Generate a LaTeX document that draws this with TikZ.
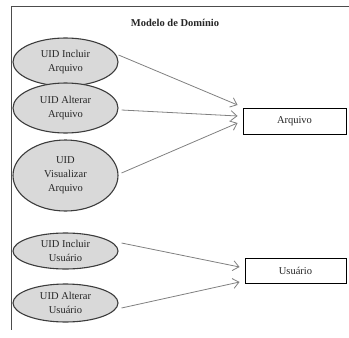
\documentclass[tikz,border=0pt]{standalone}
\usepackage{fontspec}
\setmainfont{Liberation Serif}
\usetikzlibrary{shapes.geometric,arrows.meta}
\definecolor{usefill}{HTML}{D9D9D9}
\definecolor{useline}{HTML}{3C3C3C}
\definecolor{linkgray}{HTML}{808080}
\definecolor{txt}{HTML}{262626}
\tikzset{
  usecase/.style={ellipse, draw=useline, fill=usefill, line width=1.1pt,
    inner sep=0pt, minimum width=105pt, align=center, text=txt,
    font=\fontsize{10.5}{14}\selectfont},
  entity/.style={rectangle, draw=black, fill=white, line width=0.9pt,
    inner sep=0pt, text=txt, font=\fontsize{10.5}{13}\selectfont},
  link/.style={draw=linkgray, line width=0.8pt,
    -{Straight Barb[length=6pt,width=10pt,line width=0.8pt]}},
  frameline/.style={draw=black!70, line width=1pt}
}
\begin{document}
\begin{tikzpicture}[x=1pt,y=-1pt]
\useasboundingbox (0,0) rectangle (349,338);
% outer frame (top and left edges)
\draw[frameline] (349,6) -- (11,6) -- (11,330);
% title
\node[font=\fontsize{10.5}{13}\selectfont\bfseries, text=txt] (title) at (175,23) {Modelo de Domínio};
% use cases
\node[usecase, minimum height=48pt] (e1) at (65.5,62) {UID Incluir\\Arquivo};
\node[usecase, minimum height=50pt] (e2) at (65.5,108) {UID Alterar\\Arquivo};
\node[usecase, minimum height=71pt] (e3) at (65.5,175.5) {UID\\Visualizar\\Arquivo};
\node[usecase, minimum height=36pt] (e4) at (65.5,251) {UID Incluir\\Usuário};
\node[usecase, minimum height=38pt] (e5) at (65.5,303) {UID Alterar\\Usuário};
% domain classes
\node[entity, minimum width=103pt, minimum height=26pt] (arq) at (294.5,121) {Arquivo};
\node[entity, minimum width=101pt, minimum height=25pt] (usr) at (295.5,270.5) {Usuário};
% dependencies
\draw[link] ([yshift=7pt]e1.east) -- ([xshift=-5pt,yshift=16pt]arq.west);
\draw[link] ([xshift=3pt,yshift=-2pt]e2.east) -- ([xshift=-5pt,yshift=5pt]arq.west);
\draw[link] ([xshift=3pt,yshift=2.5pt]e3.east) -- ([xshift=-5pt,yshift=-2pt]arq.west);
\draw[link] ([xshift=3pt,yshift=8pt]e4.east) -- ([xshift=-5pt,yshift=3.5pt]usr.west);
\draw[link] ([xshift=3pt,yshift=-5pt]e5.east) -- ([xshift=-5pt,yshift=-11.5pt]usr.west);
\end{tikzpicture}
\end{document}
